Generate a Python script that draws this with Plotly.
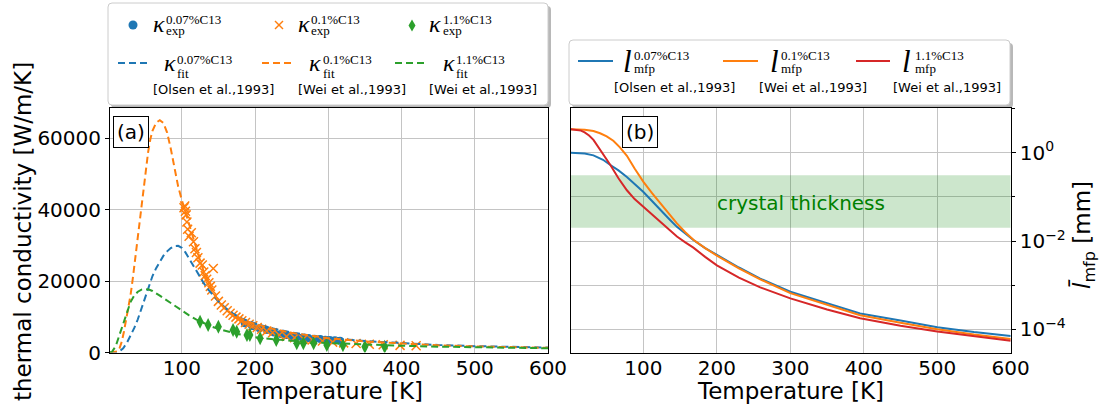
import plotly.graph_objects as go

W, H = 1109, 412

# ---------------- data ----------------
# panel (a): thermal conductivity [W/m/K]
T_exp_007 = [186, 196, 206, 216, 226, 235, 243, 250, 257, 265, 273, 281, 289, 296, 302, 309, 316]
kappa_exp_007 = [8200, 7400, 6800, 6300, 5600, 5200, 4900, 4600, 4400, 4200, 4000, 3850, 3750, 3600, 3500, 3400, 3300]

T_exp_01 = [103, 104, 105, 106, 107, 108, 110, 113, 116, 118, 120, 122, 125, 128, 130, 132, 134, 137, 139, 141,
            143, 146, 150, 154, 158, 162, 166, 170, 174, 178, 182, 187, 192, 197, 203, 209, 216, 224, 233, 243,
            254, 266, 278, 292, 306, 321, 338, 356, 375, 398, 420]
kappa_exp_01 = [40500, 41000, 39500, 38500, 36500, 34500, 32500, 33500, 31000, 29000, 28000, 26500, 25000, 24500,
                22500, 21500, 20500, 19500, 18500, 17500, 23500, 15800, 14300, 13300, 12500, 11700, 11000, 10400,
                9900, 9400, 8900, 8400, 7900, 7500, 7000, 6500, 6000, 5500, 4900, 4500, 4100, 3800, 3500, 3200,
                2900, 2700, 2500, 2300, 2150, 2000, 1900]

T_exp_11 = [125, 136, 150, 170, 175, 189, 193, 207, 229, 257, 266, 280, 298, 320, 350, 377]
kappa_exp_11 = [8600, 7700, 7200, 6300, 5800, 4900, 4900, 4000, 3500, 2600, 2600, 2600, 2100, 2000, 1600, 1600]

T_fit_007 = [2, 10, 15, 20, 25, 30, 35, 40, 45, 50, 55, 60, 65, 70, 75, 80, 85, 90, 95, 100, 105, 110, 115, 120,
             125, 130, 135, 140, 150, 160, 170, 180, 190, 200, 225, 250, 275, 300, 350, 400, 450, 500, 550, 600]
kappa_fit_007 = [0, 30, 300, 1200, 2700, 4600, 6800, 9300, 12400, 15500, 18600, 21400, 23600, 25500, 27100, 28300,
                 29200, 29800, 29850, 29300, 28000, 26300, 24500, 22700, 21000, 19400, 17900, 16600, 14300, 12400,
                 10900, 9700, 8800, 8100, 6700, 5600, 4750, 4100, 3200, 2550, 2100, 1780, 1560, 1400]

T_fit_01 = [2, 8, 12, 15, 18, 21, 24, 27, 30, 33, 36, 39, 42, 45, 48, 51, 54, 57, 60, 65, 70, 75, 80, 85, 90, 95,
            100, 105, 110, 115, 120, 125, 130, 135, 140, 150, 160, 170, 180, 190, 200, 225, 250, 275, 300, 350,
            400, 450, 500, 550, 600]
kappa_fit_01 = [0, 60, 300, 1200, 3000, 5800, 9000, 12300, 16000, 20500, 25500, 31000, 36000, 41000, 46500, 51500,
                56000, 59600, 62000, 64300, 65000, 64200, 61500, 57000, 51500, 46500, 42700, 39200, 35800, 32300,
                28900, 25700, 22700, 20000, 17800, 14400, 12000, 10500, 9500, 8700, 8000, 6600, 5500, 4650, 4000,
                3100, 2450, 2000, 1700, 1480, 1300]

T_fit_11 = [2, 5, 10, 15, 20, 25, 30, 35, 40, 45, 50, 55, 60, 70, 80, 90, 100, 110, 120, 130, 140, 150, 160, 170,
            180, 190, 200, 225, 250, 275, 300, 350, 400, 450, 500, 550, 600]
kappa_fit_11 = [0, 250, 1900, 5000, 8500, 11600, 14100, 15900, 17000, 17600, 17750, 17600, 17200, 15900, 14500,
                13100, 11700, 10400, 9200, 8200, 7300, 6600, 6000, 5500, 5050, 4650, 4300, 3700, 3250, 2900, 2650,
                2200, 1880, 1640, 1450, 1300, 1180]

# panel (b): mean free path [mm]
T_l_007 = [1, 10, 20, 32, 45, 55, 66, 77.5, 88, 100, 112, 123, 135, 145.6, 157, 168, 184, 200, 230, 259, 300, 350,
           395, 450, 500, 550, 600]
l_mfp_007 = [1.0, 0.989, 0.955, 0.871, 0.692, 0.525, 0.398, 0.282, 0.195, 0.129, 0.0794, 0.0501, 0.0316, 0.0209,
             0.0145, 0.0105, 0.00692, 0.00479, 0.00251, 0.00141, 0.000708, 0.000389, 0.000229, 0.000158, 0.000112,
             0.0000871, 0.0000708]

T_l_01 = [1, 10, 20, 32, 41, 50, 59, 68, 77.5, 88, 100, 112, 123, 135, 145.6, 157, 168, 184, 200, 230, 259, 300,
          350, 395, 450, 500, 550, 600]
l_mfp_01 = [3.39, 3.39, 3.31, 3.09, 2.75, 2.34, 1.86, 1.32, 0.851, 0.437, 0.219, 0.120, 0.0708, 0.0398, 0.0251,
            0.0158, 0.0107, 0.00692, 0.00468, 0.00240, 0.00135, 0.000661, 0.000355, 0.000209, 0.000141, 0.0001,
            0.0000759, 0.0000603]

T_l_11 = [1, 10, 15, 20, 26, 32, 40, 47, 55, 66, 77.5, 88, 100, 112, 123, 135, 145.6, 157, 168, 184, 200, 230, 259,
          300, 350, 395, 450, 500, 550, 600]
l_mfp_11 = [3.39, 3.31, 3.16, 2.88, 2.45, 1.95, 1.26, 0.832, 0.525, 0.263, 0.141, 0.0891, 0.0589, 0.0398, 0.0263,
            0.0174, 0.0126, 0.00933, 0.00708, 0.00437, 0.00282, 0.00148, 0.000891, 0.000501, 0.000282, 0.000178,
            0.00012, 0.0000891, 0.0000692, 0.000055]

thickness_band_T = [1, 600]
thickness_band_mm = [0.02, 0.31]

x_ticks = [100, 200, 300, 400, 500, 600]
y_ticks_a = [0, 20000, 40000, 60000]
y_ticktext_a = ["0", "20000", "40000", "60000"]
y_ticks_b = [1e-4, 1e-2, 1]
y_ticktext_b = ["10<sup>\u22124</sup>", "10<sup>\u22122</sup>", "10<sup>0</sup>"]
y_minor_b = [1e-3, 1e-1, 10]

# ---------------- styling ----------------
BLUE, ORANGE, GREEN, RED = "#1f77b4", "#ff7f0e", "#2ca02c", "#d62728"
SANS = "DejaVu Sans"
SERIF = "Liberation Serif"
DASH = "7px,4px"
GRID = "#c4c4c4"


def X(p):
    return p / W


def Y(p):
    return 1 - p / H


fig = go.Figure()

# panel (a)
fig.add_trace(go.Scatter(x=T_exp_007, y=kappa_exp_007, mode="markers",
                         marker=dict(symbol="circle", size=8, color=BLUE), xaxis="x", yaxis="y"))
fig.add_trace(go.Scatter(x=T_exp_01, y=kappa_exp_01, mode="markers",
                         marker=dict(symbol="x-thin", size=9, color=ORANGE, line=dict(color=ORANGE, width=1.5)),
                         xaxis="x", yaxis="y"))
fig.add_trace(go.Scatter(x=T_exp_11, y=kappa_exp_11, mode="markers",
                         marker=dict(symbol="diamond-tall", size=10, color=GREEN), xaxis="x", yaxis="y"))
for T, k, c in [(T_fit_007, kappa_fit_007, BLUE), (T_fit_01, kappa_fit_01, ORANGE), (T_fit_11, kappa_fit_11, GREEN)]:
    fig.add_trace(go.Scatter(x=T, y=k, mode="lines", line=dict(color=c, width=2, dash=DASH),
                             xaxis="x", yaxis="y"))

# panel (b)
fig.add_trace(go.Scatter(
    x=[thickness_band_T[0], thickness_band_T[1], thickness_band_T[1], thickness_band_T[0]],
    y=[thickness_band_mm[0], thickness_band_mm[0], thickness_band_mm[1], thickness_band_mm[1]],
    mode="lines", fill="toself", fillcolor="rgba(0,128,0,0.2)", line=dict(width=0),
    xaxis="x2", yaxis="y2"))
for T, l, c in [(T_l_007, l_mfp_007, BLUE), (T_l_01, l_mfp_01, ORANGE), (T_l_11, l_mfp_11, RED)]:
    fig.add_trace(go.Scatter(x=T, y=l, mode="lines", line=dict(color=c, width=2), xaxis="x2", yaxis="y2"))

axis_common = dict(showgrid=True, gridcolor=GRID, gridwidth=1, showline=True, linecolor="black",
                   linewidth=1, mirror=True, zeroline=False, automargin=False,
                   tickfont=dict(family=SANS, size=20, color="black"))
ydom = [1 - 352.5 / H, 1 - 108 / H]

fig.update_layout(
    width=W, height=H, margin=dict(l=0, r=0, t=0, b=0),
    paper_bgcolor="white", plot_bgcolor="white", showlegend=False, hovermode=False,
    font=dict(family=SANS, color="black"),
    xaxis=dict(domain=[110 / W, 548 / W], range=[2, 600], tickmode="array", tickvals=x_ticks, ticks="",
               ticklabelstandoff=-3, anchor="y", **axis_common),
    yaxis=dict(domain=ydom, range=[0, 68400], tickmode="array", tickvals=y_ticks_a, ticktext=y_ticktext_a,
               ticks="outside", ticklen=4, tickcolor="black", anchor="x", **axis_common),
    xaxis2=dict(domain=[570.7 / W, 1010.7 / W], range=[1, 600], tickmode="array", tickvals=x_ticks, ticks="",
                ticklabelstandoff=-3, anchor="y2", **axis_common),
    yaxis2=dict(domain=ydom, type="log", range=[-4.525, 1.012], side="right", tickmode="array",
                tickvals=y_ticks_b, ticktext=y_ticktext_b, ticks="outside", ticklen=4, tickcolor="black",
                minor=dict(tickmode="array", tickvals=y_minor_b, ticks="outside", ticklen=3, tickcolor="black",
                           showgrid=True, gridcolor=GRID, gridwidth=1),
                anchor="x2", **axis_common),
)

shapes = []
anns = []


def rrect_path(x0, y0, x1, y1, r):
    return (f"M {X(x0 + r)},{Y(y0)} L {X(x1 - r)},{Y(y0)} Q {X(x1)},{Y(y0)} {X(x1)},{Y(y0 + r)} "
            f"L {X(x1)},{Y(y1 - r)} Q {X(x1)},{Y(y1)} {X(x1 - r)},{Y(y1)} "
            f"L {X(x0 + r)},{Y(y1)} Q {X(x0)},{Y(y1)} {X(x0)},{Y(y1 - r)} "
            f"L {X(x0)},{Y(y0 + r)} Q {X(x0)},{Y(y0)} {X(x0 + r)},{Y(y0)} Z")


def legend_box(x0, y0, x1, y1):
    shapes.append(dict(type="path", xref="paper", yref="paper", path=rrect_path(x0 + 3, y0 + 3, x1 + 3, y1 + 3, 4),
                       fillcolor="rgba(0,0,0,0.28)", line=dict(width=0), layer="above"))
    shapes.append(dict(type="path", xref="paper", yref="paper", path=rrect_path(x0, y0, x1, y1, 4),
                       fillcolor="white", line=dict(color="#cccccc", width=1), layer="above"))


def text(t, x, y, size, family=SANS, color="black", xanchor="left", angle=0):
    anns.append(dict(text=t, x=X(x), y=Y(y), xref="paper", yref="paper", xanchor=xanchor, yanchor="middle",
                     showarrow=False, borderpad=0, textangle=angle,
                     font=dict(family=family, size=size, color=color)))


def hline(x0, x1, y, color, dash=None):
    shapes.append(dict(type="line", xref="paper", yref="paper", x0=X(x0), x1=X(x1), y0=Y(y), y1=Y(y),
                       line=dict(color=color, width=2, dash=dash), layer="above"))


# ---- legend (a) ----
legend_box(108, 3, 548, 105)
shapes.append(dict(type="circle", xref="paper", yref="paper", x0=X(128.5), x1=X(137.5), y0=Y(29.5), y1=Y(20.5),
                   fillcolor=BLUE, line=dict(width=0), layer="above"))
for dx in (-1, 1):
    shapes.append(dict(type="line", xref="paper", yref="paper", x0=X(275), x1=X(283), y0=Y(25 - 4 * dx),
                       y1=Y(25 + 4 * dx), line=dict(color=ORANGE, width=1.5), layer="above"))
shapes.append(dict(type="path", xref="paper", yref="paper",
                   path=f"M {X(412)},{Y(19.5)} L {X(415.5)},{Y(25.5)} L {X(412)},{Y(31.5)} L {X(408.5)},{Y(25.5)} Z",
                   fillcolor=GREEN, line=dict(width=0), layer="above"))
for xk, xs in [(151.5, 165), (296.5, 310), (428, 441.5)]:
    text("<i>\u03ba</i>", xk, 24, 24, SERIF)
    text("exp", xs, 30.6, 13, SERIF)
for t, xs in [("0.07%C13", 165), ("0.1%C13", 310), ("1.1%C13", 441.5)]:
    text(t, xs, 20, 13, SERIF)
for (x0, x1), c in [((118, 148), BLUE), ((262, 293), ORANGE), ((395, 425), GREEN)]:
    hline(x0, x1, 63, c, DASH)
for xk, xs, t in [(163, 176.5, "0.07%C13"), (308, 321.5, "0.1%C13"), (441.5, 455, "1.1%C13")]:
    text("<i>\u03ba</i>", xk, 63.4, 24, SERIF)
    text(t, xs, 59, 13, SERIF)
    text("fit", xs, 73.6, 13, SERIF)
for t, x in [("[Olsen et al.,1993]", 151.5), ("[Wei et al.,1993]", 296.5), ("[Wei et al.,1993]", 428)]:
    text(t, x, 89, 13)

# ---- legend (b) ----
legend_box(569, 40, 1010, 105)
for (x0, x1), c in [((578, 613), BLUE), ((723, 758), ORANGE), ((856, 890), RED)]:
    hline(x0, x1, 61, c)
for xl, xs, t in [(621.5, 633, "0.07%C13"), (768.5, 780, "0.1%C13"), (901, 913.5, "1.1%C13")]:
    text("<i>l</i>", xl, 61.5, 31, SERIF)
    text(t, xs, 55.5, 13, SERIF)
    text("mfp", xs, 68.3, 13, SERIF)
for t, x in [("[Olsen et al.,1993]", 613), ("[Wei et al.,1993]", 758), ("[Wei et al.,1993]", 891.5)]:
    text(t, x, 87, 13)

# ---- panel labels ----
for t, xc in [("(a)", 130.5), ("(b)", 639.5)]:
    anns.append(dict(text=t, x=X(xc), y=Y(131.5), xref="paper", yref="paper", xanchor="center",
                     yanchor="middle", showarrow=False, bgcolor="white", bordercolor="black", borderwidth=1,
                     borderpad=3, font=dict(family=SANS, size=20, color="black")))

text("crystal thickness", 716, 203, 20, SANS, color="green")

# axis titles
text("Temperature [K]", 329, 391, 23, xanchor="center")
text("Temperature [K]", 790.7, 391, 23, xanchor="center")
text("thermal conductivity [W/m/K]", 23, 232, 23, xanchor="center", angle=-90)
text("<i>l\u0304</i><sub>mfp</sub> [mm]", 1083, 235, 23, xanchor="center", angle=-90)

fig.update_layout(shapes=shapes, annotations=anns)
fig.write_html("out.html")
